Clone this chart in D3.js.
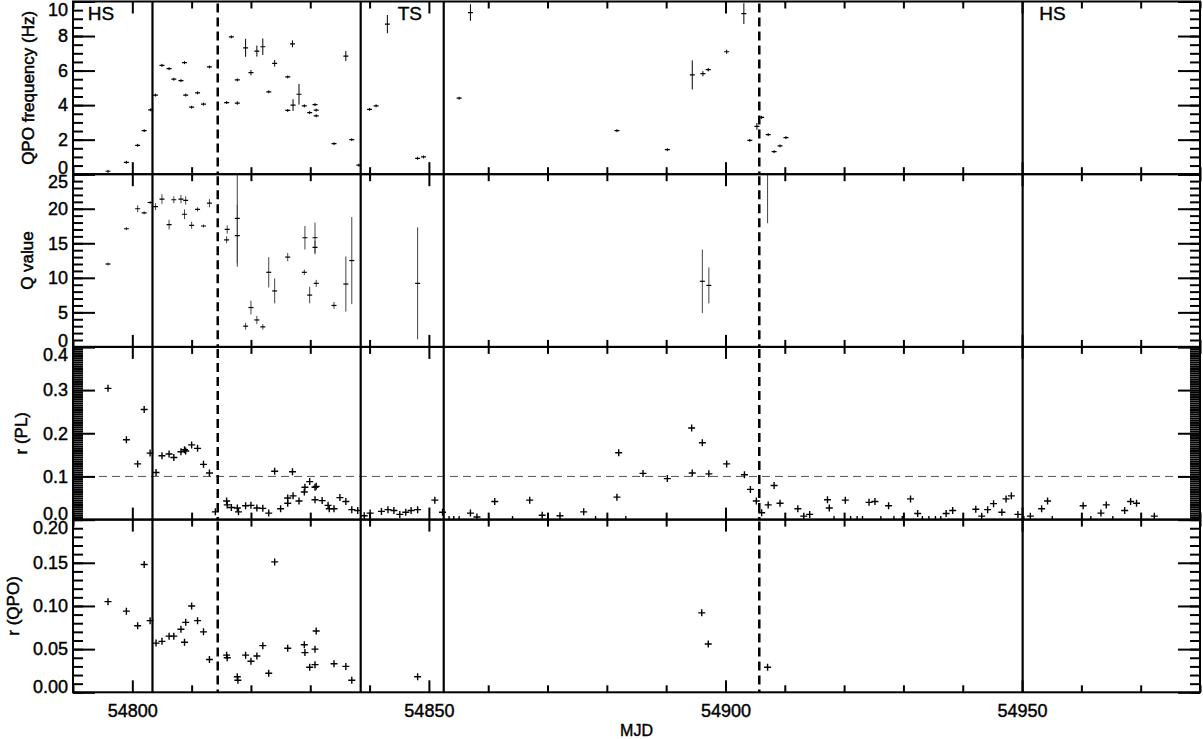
<!DOCTYPE html>
<html>
<head>
<meta charset="utf-8">
<script src="https://cdn.jsdelivr.net/npm/d3@7"></script>
<style>
  body { margin: 0; background: #fff; }
  text { font-family: "Liberation Sans", Arial, sans-serif; fill: #000; }
</style>
</head>
<body>
<svg id="chart" width="1203" height="739"></svg>
<script>
// ---- data ----
var mjdRange = [54790, 54980];

var solidLineMjd = [54803.4, 54838.5, 54852.5, 54950.1];
var dashedLineMjd = [54814.4, 54905.7];
var stateLabels = ["HS", "TS", "HS"];
var stateLabelMjd = [54792.5, 54846.8, 54952.9];
var stateAnchor = ["start", "middle", "start"];

var freqMjd = [54795.9, 54799.0, 54800.9, 54802.0, 54803.1, 54803.9, 54805.0, 54806.2, 54807.0, 54808.2,
  54808.8, 54809.0, 54810.0, 54811.0, 54812.0, 54813.0, 54815.9, 54816.7, 54817.7, 54817.7,
  54819.1, 54820.0, 54821.0, 54822.0, 54823.0, 54824.0, 54826.2, 54827.0, 54826.2, 54827.1,
  54828.1, 54829.0, 54829.9, 54830.8, 54831.0, 54831.0, 54834.0, 54836.0, 54837.0, 54838.2,
  54840.0, 54841.1, 54843.0, 54848.1, 54849.1, 54855.1, 54857.0, 54881.7, 54890.2, 54894.4,
  54896.2, 54897.1, 54900.2, 54903.1, 54904.1, 54905.3, 54906.1, 54907.2, 54908.2, 54909.2, 54910.2];
var freqVal = [0.17, 0.69, 1.67, 2.52, 3.73, 4.58, 6.30, 6.11, 5.50, 5.42,
  6.46, 4.58, 3.88, 4.71, 4.06, 6.21, 4.15, 7.95, 5.46, 4.12,
  7.32, 5.88, 7.13, 7.38, 4.77, 6.42, 5.63, 7.55, 3.69, 4.00,
  4.63, 3.96, 3.57, 4.03, 3.71, 3.38, 1.77, 6.84, 2.00, 0.52,
  3.75, 3.96, 8.69, 0.92, 1.00, 4.40, 9.36, 2.52, 1.42, 5.75,
  5.82, 6.05, 7.09, 9.30, 1.96, 2.77, 3.29, 2.29, 1.31, 1.64, 2.12];
var freqErr = [0, 0, 0, 0, 0, 0, 0, 0, 0, 0,
  0, 0, 0, 0, 0, 0, 0.08, 0, 0.08, 0.1,
  0.52, 0.15, 0.32, 0.48, 0.08, 0.19, 0, 0.2, 0, 0.34,
  0.6, 0, 0, 0, 0, 0, 0, 0.29, 0, 0,
  0, 0.08, 0.53, 0, 0, 0, 0.48, 0, 0, 0.84,
  0.15, 0.1, 0.12, 0.6, 0, 0.2, 0, 0, 0, 0, 0];

var qMjd = [54795.9, 54799.0, 54800.9, 54802.0, 54803.0, 54803.9, 54805.0, 54806.2, 54807.0, 54808.2,
  54809.0, 54808.8, 54810.0, 54811.0, 54812.0, 54813.0, 54815.9, 54816.0, 54817.7, 54817.7,
  54819.1, 54820.0, 54821.0, 54822.0, 54823.0, 54824.0, 54826.2, 54829.0, 54829.1, 54829.9,
  54830.8, 54830.8, 54831.0, 54834.0, 54836.0, 54837.0, 54848.1, 54896.1, 54897.2, 54907.1];
var qVal = [12.0, 17.1, 20.0, 19.4, 20.9, 20.3, 21.4, 17.7, 21.3, 21.4,
  21.2, 19.2, 17.6, 19.9, 17.5, 20.8, 15.5, 17.0, 18.6, 16.1,
  3.0, 5.7, 3.9, 2.9, 10.8, 8.1, 13.0, 10.8, 15.8, 7.5,
  15.8, 14.4, 9.2, 6.0, 9.1, 12.5, 9.2, 9.5, 8.9, 29.5];
var qErr = [0, 0.2, 0.5, 0, 0.2, 0.5, 0.7, 0.7, 0.5, 0.6,
  0.6, 0.7, 0.5, 0.3, 0, 0.6, 0.5, 0.6, 6.5, 4.5,
  0.5, 1.0, 0.6, 0.4, 2.2, 1.8, 0.6, 0.4, 1.7, 1.2,
  2.2, 1.0, 0.5, 0.5, 4.0, 6.3, 8.1, 4.6, 2.6, 11.6];

var rplMjd = [54795.9, 54799.0, 54800.9, 54802.0, 54803.0, 54804.0, 54805.0, 54806.2, 54807.0, 54808.2,
  54808.8, 54809.0, 54810.0, 54811.0, 54812.0, 54813.0, 54814.0, 54815.9, 54816.0, 54816.7,
  54817.7, 54817.9, 54819.1, 54820.0, 54821.0, 54822.0, 54823.0, 54824.0, 54825.0, 54826.2,
  54826.2, 54827.0, 54827.1, 54828.1, 54829.0, 54829.1, 54829.9, 54830.8, 54831.0, 54830.8,
  54832.0, 54833.0, 54833.2, 54834.0, 54835.0, 54836.0, 54837.0, 54838.0, 54839.1, 54840.1,
  54842.0, 54843.1, 54844.1, 54845.1, 54846.1, 54847.0, 54848.1, 54851.0, 54852.3, 54853.4,
  54854.2, 54855.1, 54857.0, 54858.1, 54861.1, 54864.1, 54867.0, 54869.1, 54872.1, 54876.1,
  54878.1, 54881.7, 54882.0, 54883.2, 54886.1, 54890.2, 54894.3, 54894.4, 54896.1, 54897.2,
  54900.2, 54903.2, 54904.2, 54905.2, 54906.1, 54907.2, 54908.2, 54909.2, 54912.2, 54913.2,
  54914.2, 54917.2, 54917.5, 54918.3, 54920.2, 54921.1, 54922.2, 54923.1, 54924.2, 54925.2,
  54926.2, 54927.5, 54928.4, 54929.8, 54931.2, 54932.4, 54933.2, 54934.3, 54935.4, 54936.3,
  54937.2, 54938.3, 54942.2, 54943.2, 54944.2, 54945.2, 54946.6, 54947.3, 54948.2, 54949.3,
  54950.3, 54951.4, 54953.3, 54954.3, 54955.1, 54960.3, 54961.6, 54963.3, 54964.2, 54965.3,
  54967.3, 54968.3, 54969.3, 54972.3];
var rplVal = [0.304, 0.185, 0.129, 0.255, 0.154, 0.109, 0.148, 0.152, 0.144, 0.157,
  0.162, 0.159, 0.173, 0.165, 0.128, 0.108, 0.018, 0.043, 0.034, 0.028,
  0.027, 0.018, 0.032, 0.033, 0.027, 0.026, 0.015, 0.112, 0.025, 0.038,
  0.050, 0.111, 0.055, 0.043, 0.064, 0.075, 0.088, 0.075, 0.077, 0.046,
  0.044, 0.033, 0.025, 0.025, 0.051, 0.042, 0.023, 0.021, 0.009, 0.015,
  0.019, 0.023, 0.021, 0.012, 0.017, 0.021, 0.023, 0.045, 0.017, 0,
  0, 0, 0.015, 0.006, 0.042, 0, 0.045, 0.010, 0.009, 0.018,
  0, 0.052, 0.155, 0, 0.107, 0.095, 0.212, 0.108, 0.178, 0.106,
  0.129, 0.104, 0.070, 0.043, 0.016, 0.034, 0.079, 0.038, 0.025, 0.008,
  0.012, 0.046, 0.027, 0, 0.045, 0, 0, 0, 0.040, 0.042,
  0, 0.032, 0, 0, 0.048, 0.014, 0, 0, 0, 0,
  0.014, 0.021, 0.024, 0.008, 0.023, 0.037, 0.017, 0.048, 0.055, 0.012,
  0, 0.008, 0.025, 0.043, 0, 0.032, 0, 0.015, 0.034, 0,
  0.021, 0.042, 0.038, 0.008];

var rqpoMjd = [54795.9, 54799.0, 54800.9, 54802.0, 54803.0, 54804.0, 54805.0, 54806.2, 54807.0, 54808.2,
  54808.8, 54809.0, 54810.0, 54811.0, 54812.0, 54813.0, 54815.9, 54816.0, 54817.7, 54817.8,
  54819.1, 54820.0, 54821.0, 54822.0, 54823.0, 54824.0, 54826.2, 54829.0, 54829.1, 54829.9,
  54830.8, 54830.8, 54831.0, 54834.0, 54836.0, 54837.0, 54848.1, 54896.0, 54897.1, 54907.1];
var rqpoVal = [0.105, 0.094, 0.077, 0.148, 0.083, 0.057, 0.059, 0.065, 0.065, 0.073,
  0.058, 0.081, 0.100, 0.083, 0.070, 0.038, 0.043, 0.040, 0.018, 0.014,
  0.043, 0.036, 0.042, 0.054, 0.022, 0.151, 0.051, 0.055, 0.046, 0.029,
  0.050, 0.032, 0.071, 0.033, 0.030, 0.014, 0.018, 0.092, 0.056, 0.029];

// ---- layout ----
var width = 1203, height = 739;
var left = 73, right = 1200, top0 = 1.5, panelH = 172.7;

var svg = d3.select("#chart");
svg.append("rect").attr("width", width).attr("height", height).attr("fill", "#fff");

var x = d3.scaleLinear().domain(mjdRange).range([left, right]);

var panels = [
  { title: "QPO frequency (Hz)", titleX: 28, domain: [0, 10], major: 2, minor: 0.5, fmt: d3.format("d"),
    xs: freqMjd, ys: freqVal, errs: freqErr, kind: "err" },
  { title: "Q value", titleX: 27, domain: [0, 25], major: 5, minor: 1, fmt: d3.format("d"),
    xs: qMjd, ys: qVal, errs: qErr, kind: "err" },
  { title: "r (PL)", titleX: 21, domain: [0, 0.4], major: 0.1, minor: 0.005, fmt: d3.format(".1f"),
    xs: rplMjd, ys: rplVal, kind: "plus", hline: 0.1 },
  { title: "r (QPO)", titleX: 13, domain: [0, 0.2], major: 0.05, minor: 0.01, fmt: d3.format(".2f"),
    xs: rqpoMjd, ys: rqpoVal, kind: "plus" }
];

var majorX = d3.range(54800, 54981, 50);
var minorX = d3.range(54790, 54981, 10).filter(function(v) { return v % 50 !== 0; });

function ticksFor(dom, step) {
  var n = Math.round((dom[1] - dom[0]) / step);
  return d3.range(n + 1).map(function(i) { return +(dom[0] + i * step).toFixed(4); });
}

panels.forEach(function(p, i) {
  var y0 = top0 + i * panelH, y1 = y0 + panelH;
  var y = d3.scaleLinear().domain(p.domain).range([y1, y0]);
  var g = svg.append("g");

  var clipId = "clip" + i;
  svg.append("clipPath").attr("id", clipId).append("rect")
    .attr("x", left).attr("y", y0).attr("width", right - left).attr("height", panelH);

  var plot = g.append("g").attr("clip-path", "url(#" + clipId + ")");

  if (p.hline !== undefined) {
    plot.append("line")
      .attr("x1", left).attr("x2", right)
      .attr("y1", y(p.hline)).attr("y2", y(p.hline))
      .attr("stroke", "#555").attr("stroke-width", 1).attr("stroke-dasharray", "8,5");
  }

  var idx = d3.range(p.xs.length);
  if (p.kind === "err") {
    var errColor = i === 0 ? "#000" : "#444";
    plot.selectAll("line.eb").data(idx).enter().append("line")
      .attr("class", "eb")
      .attr("x1", function(d) { return x(p.xs[d]); })
      .attr("x2", function(d) { return x(p.xs[d]); })
      .attr("y1", function(d) { return Math.min(y(p.ys[d] + p.errs[d]), y(p.ys[d]) - 1.5); })
      .attr("y2", function(d) { return Math.max(y(p.ys[d] - p.errs[d]), y(p.ys[d]) + 1.5); })
      .attr("stroke", errColor).attr("stroke-width", 1);
    plot.selectAll("line.mk").data(idx).enter().append("line")
      .attr("class", "mk")
      .attr("x1", function(d) { return x(p.xs[d]) - 2.5; })
      .attr("x2", function(d) { return x(p.xs[d]) + 2.5; })
      .attr("y1", function(d) { return y(p.ys[d]); })
      .attr("y2", function(d) { return y(p.ys[d]); })
      .attr("stroke", "#000").attr("stroke-width", 1.2);
  } else {
    plot.selectAll("path.pt").data(idx).enter().append("path")
      .attr("class", "pt")
      .attr("d", function(d) {
        var cx = x(p.xs[d]), cy = y(p.ys[d]);
        return "M" + (cx - 3.5) + "," + cy + "H" + (cx + 3.5) + "M" + cx + "," + (cy - 3.5) + "V" + (cy + 3.5);
      })
      .attr("stroke", "#000").attr("stroke-width", 1.4).attr("fill", "none");
  }

  // state boundaries
  solidLineMjd.forEach(function(m) {
    g.append("line").attr("x1", x(m)).attr("x2", x(m)).attr("y1", y0).attr("y2", y1)
      .attr("stroke", "#000").attr("stroke-width", 2.2);
  });
  dashedLineMjd.forEach(function(m) {
    g.append("line").attr("x1", x(m)).attr("x2", x(m)).attr("y1", y0 + 2).attr("y2", y1)
      .attr("stroke", "#000").attr("stroke-width", 2.5).attr("stroke-dasharray", "9,5");
  });

  // y axes (ticks inside)
  var majorY = ticksFor(p.domain, p.major);
  var minorY = ticksFor(p.domain, p.minor);

  var yl = g.append("g").attr("transform", "translate(" + left + ",0)")
    .call(d3.axisLeft(y).tickValues(majorY).tickFormat(p.fmt).tickSizeInner(-22).tickSizeOuter(0).tickPadding(5));
  yl.append("g").call(d3.axisLeft(y).tickValues(minorY).tickFormat("").tickSizeInner(-10).tickSizeOuter(0));
  var yr = g.append("g").attr("transform", "translate(" + right + ",0)")
    .call(d3.axisRight(y).tickValues(majorY).tickFormat("").tickSizeInner(-22).tickSizeOuter(0));
  yr.append("g").call(d3.axisRight(y).tickValues(minorY).tickFormat("").tickSizeInner(-10).tickSizeOuter(0));

  // x axes top/bottom
  var xt = g.append("g").attr("transform", "translate(0," + y0 + ")")
    .call(d3.axisTop(x).tickValues(majorX).tickFormat("").tickSizeInner(-12).tickSizeOuter(0));
  xt.append("g").call(d3.axisTop(x).tickValues(minorX).tickFormat("").tickSizeInner(-7).tickSizeOuter(0));
  var xb = g.append("g").attr("transform", "translate(0," + y1 + ")")
    .call(d3.axisBottom(x).tickValues(majorX).tickFormat(i === 3 ? d3.format("d") : "").tickSizeInner(-12).tickSizeOuter(0).tickPadding(12));
  xb.append("g").call(d3.axisBottom(x).tickValues(minorX).tickFormat("").tickSizeInner(-7).tickSizeOuter(0));

  g.selectAll(".domain").remove();
  g.selectAll(".tick line").attr("stroke", "#000").attr("stroke-width", 2);
  g.selectAll(".tick text").attr("font-size", 18).attr("font-family", "Liberation Sans, Arial, sans-serif")
    .attr("fill", "#000").attr("stroke", "#000").attr("stroke-width", 0.4);

  // pull end labels inside the panel
  yl.selectAll(".tick text").attr("y", function(d) {
    if (d === p.domain[1]) return 8;
    if (d === p.domain[0]) return -6;
    return 0;
  });

  // box
  g.append("rect").attr("x", left).attr("y", y0).attr("width", right - left).attr("height", panelH)
    .attr("fill", "none").attr("stroke", "#000").attr("stroke-width", 2);

  // y title
  g.append("text")
    .attr("transform", "translate(" + p.titleX + "," + (y0 + panelH / 2) + ") rotate(-90)")
    .attr("text-anchor", "middle").attr("dy", "0.35em")
    .attr("font-size", 17).attr("stroke", "#000").attr("stroke-width", 0.5)
    .text(p.title);

  if (i === 0) {
    stateLabels.forEach(function(s, k) {
      g.append("text").attr("x", x(stateLabelMjd[k])).attr("y", 20)
        .attr("text-anchor", stateAnchor[k]).attr("font-size", 19)
        .attr("stroke", "#000").attr("stroke-width", 0.4)
        .text(s);
    });
  }
});

svg.append("text").attr("x", (left + right) / 2).attr("y", 730).attr("dy", "0.35em")
  .attr("text-anchor", "middle").attr("font-size", 16).attr("stroke", "#000").attr("stroke-width", 0.4)
  .text("MJD");
</script>
</body>
</html>
